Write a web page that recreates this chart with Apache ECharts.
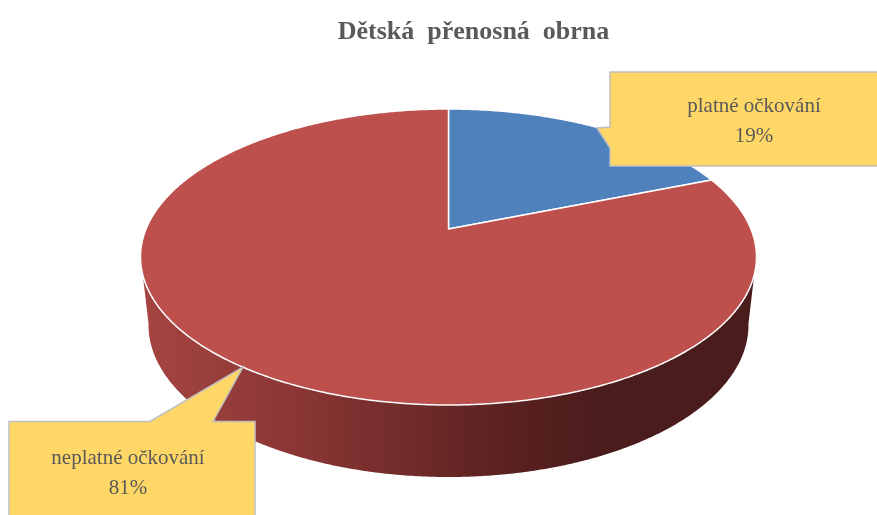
<!DOCTYPE html>
<html><head><meta charset="utf-8">
<style>html,body{margin:0;padding:0;background:#fff}#c{width:877px;height:515px}</style>
<script src="https://cdn.jsdelivr.net/npm/echarts@6/dist/echarts.min.js"></script>
</head><body><div id="c"></div>
<script>
const titleText = 'Dětská  přenosná  obrna';
const categories = ['platné očkování', 'neplatné očkování'];
const values = [19, 81];
const sliceColors = ['#4F81BD', '#BD4F4C'];

// Projection of the tilted disc
const top3d = {cx: 448.5, cy: 257, rx: 308, ry: 148, tilt: -0.189};
const bottom3d = {cx: 448.5, cy: 325, rx: 300, ry: 152};
// Callout frames: box corners + pointer
const callouts = [
  {box: [[610,72],[880,72],[880,166],[610,166],[610,148],[597,128],[610,127]], tx: 754, ty: 106},
  {box: [[9,421.5],[150,421.5],[243,367],[213,421.5],[255,421.5],[255,520],[9,520]], tx: 128, ty: 458}
];

const total = values.reduce((a, b) => a + b, 0);

function discPoint(theta) {
  const x = Math.sin(theta), y = -Math.cos(theta), p = top3d.tilt;
  const d = 1 + p * y;
  return [x * Math.sqrt(1 - p * p) / d, (y + p) / d];
}
const onTop = u => [top3d.cx + u[0] * top3d.rx, top3d.cy + u[1] * top3d.ry];
const onBottom = u => [bottom3d.cx + u[0] * bottom3d.rx, bottom3d.cy + u[1] * bottom3d.ry];

function renderSlice(params, api) {
  const i = params.dataIndex, value = api.value(0);
  const before = values.slice(0, i).reduce((a, b) => a + b, 0);
  const a0 = before / total * 2 * Math.PI, a1 = (before + value) / total * 2 * Math.PI;
  const steps = Math.max(8, Math.round(value * 8));
  const rim = [];
  for (let k = 0; k <= steps; k++) rim.push(discPoint(a0 + (a1 - a0) * k / steps));
  const apex = [top3d.cx, top3d.cy + top3d.tilt * top3d.ry];
  const children = [];
  const front = rim.filter(u => u[1] >= -0.01);
  if (front.length > 1) {
    children.push({type: 'polygon',
      shape: {points: front.map(onTop).concat(front.slice().reverse().map(onBottom))},
      style: {fill: {type: 'linear', x: 0, y: 0, x2: 1, y2: 0, colorStops: [
        {offset: 0, color: '#A64541'}, {offset: 0.25, color: '#8A3735'},
        {offset: 0.6, color: '#5A2120'}, {offset: 0.75, color: '#4A1C1C'}, {offset: 1, color: '#4A1C1C'}]}}});
  }
  children.push({type: 'polygon', shape: {points: [apex].concat(rim.map(onTop))},
    style: {fill: sliceColors[i], stroke: '#fff', lineWidth: 1.5, lineJoin: 'round'}});
  const c = callouts[i];
  children.push({type: 'polygon', z2: 50, shape: {points: c.box},
    style: {fill: '#FFD766', stroke: '#BFBFBF', lineWidth: 1.5}});
  const pct = Math.round(value / total * 100) + '%';
  [categories[i], pct].forEach((t, n) => children.push({type: 'text', z2: 60, x: c.tx, y: c.ty + n * 30,
    style: {text: t, fill: '#595959', font: '21px "Liberation Serif"', align: 'center', verticalAlign: 'middle'}}));
  return {type: 'group', children};
}

const chart = echarts.init(document.getElementById('c'), null, {renderer: 'canvas'});
chart.setOption({
  animation: false,
  title: {text: titleText, left: 468.5, top: 14, textAlign: 'center',
    textStyle: {fontFamily: 'Liberation Serif', fontSize: 26, fontWeight: 'bold', color: '#595959'}},
  series: [{type: 'custom', coordinateSystem: 'none', renderItem: renderSlice,
    data: values.map((v, i) => ({name: categories[i], value: [v]}))}]
});
</script></body></html>
